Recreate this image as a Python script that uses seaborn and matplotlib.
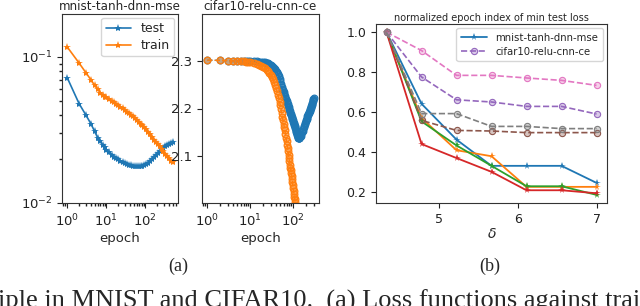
import numpy as np
import pandas as pd
import seaborn as sns
import matplotlib
matplotlib.use("Agg")
import matplotlib.pyplot as plt
from matplotlib.colors import to_rgba

# ---------------- data ----------------
# panel (a) left: mnist-tanh-dnn-mse (log-log)
epochs1 = [1, 2, 3, 4, 5, 6, 7, 8, 9, 10, 12, 14, 16, 18, 20, 23, 26, 30, 34, 38,
           43, 48, 54, 60, 67, 75, 84, 94, 105, 118, 132, 148, 165, 185, 207, 232,
           260, 290, 325, 365, 410, 460, 500]
mnist_test = [0.072, 0.048, 0.040, 0.035, 0.031, 0.028, 0.0265, 0.025, 0.024, 0.0232,
              0.0222, 0.0214, 0.0208, 0.0203, 0.0199, 0.0195, 0.0191, 0.0188, 0.0185,
              0.0183, 0.0181, 0.0180, 0.0179, 0.0178, 0.0178, 0.0178, 0.0179, 0.0181,
              0.0184, 0.0188, 0.0193, 0.0199, 0.0205, 0.0212, 0.0219, 0.0226, 0.0233,
              0.0239, 0.0245, 0.0250, 0.0254, 0.0258, 0.0260]
mnist_train = [0.117, 0.091, 0.078, 0.070, 0.064, 0.060, 0.057, 0.055, 0.0535, 0.0534,
               0.0515, 0.0500, 0.0488, 0.0477, 0.0468, 0.0456, 0.0446, 0.0434, 0.0423,
               0.0414, 0.0403, 0.0394, 0.0383, 0.0370, 0.0360, 0.0350, 0.0340, 0.0330,
               0.0320, 0.0307, 0.0295, 0.0283, 0.0272, 0.0262, 0.0253, 0.0244, 0.0235,
               0.0227, 0.0218, 0.0210, 0.0202, 0.0195, 0.0190]

# panel (a) right: cifar10-relu-cnn-ce (log x)
epochs2 = ([1, 2, 3, 4, 5, 6, 7, 8, 9, 10]
           + [12, 14, 16, 18, 20, 22, 24, 26, 28, 30, 32, 34, 36, 38, 40]
           + [42, 44, 46, 48, 50, 52, 54, 56, 58, 60, 62, 64, 66, 68, 70, 72, 74, 76,
              78, 80, 82, 84, 86, 88, 90, 92, 94, 96, 98, 100, 102, 104, 106, 108,
              110, 112, 114, 116, 118, 120, 122, 124, 126, 128, 130, 132, 134, 136,
              138, 140]
           + [145, 150, 155, 160, 165, 170, 175, 180, 185, 190, 195, 200, 205, 210,
              215, 220, 225, 230, 235, 240, 245, 250, 255, 260, 265, 270, 275, 280,
              285, 290, 295, 300])
cifar_test = ([2.3015, 2.301, 2.3005, 2.3005, 2.3005, 2.3003, 2.3002, 2.3001, 2.3000, 2.2998]
              + [2.2995, 2.2990, 2.2987, 2.2983, 2.2980, 2.2972, 2.2962, 2.2950, 2.2937,
                 2.2920, 2.2900, 2.2880, 2.2857, 2.2830, 2.2795]
              + [2.2760, 2.2720, 2.2675, 2.2630, 2.2580, 2.2520, 2.2460, 2.2420, 2.2380,
                 2.2340, 2.2300, 2.2265, 2.2230, 2.2190, 2.2155, 2.2120, 2.2085, 2.2055,
                 2.2025, 2.1995, 2.1967, 2.1940, 2.1910, 2.1880, 2.1855, 2.1830, 2.1800,
                 2.1775, 2.1750, 2.1725, 2.1700, 2.1680, 2.1655, 2.1630, 2.1605, 2.1580,
                 2.1555, 2.1530, 2.1505, 2.1480, 2.1460, 2.1440, 2.1425, 2.1410, 2.1400,
                 2.1390, 2.1382, 2.1378, 2.1378, 2.1380]
              + [2.1400, 2.1425, 2.1460, 2.1500, 2.1535, 2.1570, 2.1605, 2.1640, 2.1670,
                 2.1700, 2.1730, 2.1760, 2.1785, 2.1810, 2.1835, 2.1860, 2.1885, 2.1910,
                 2.1930, 2.1955, 2.1975, 2.1995, 2.2015, 2.2035, 2.2055, 2.2075, 2.2095,
                 2.2115, 2.2150, 2.2170, 2.2195, 2.2220])
cifar_train = ([2.3015, 2.3010, 2.3005, 2.3000, 2.2998, 2.2995, 2.2990, 2.2985, 2.2980, 2.2970]
               + [2.2955, 2.2940, 2.2920, 2.2895, 2.2870, 2.2845, 2.2815, 2.2780, 2.2745,
                  2.2710, 2.2665, 2.2610, 2.2550, 2.2490, 2.2430]
               + [2.236, 2.229, 2.222, 2.214, 2.207, 2.199, 2.190, 2.182, 2.175, 2.168,
                  2.161, 2.154, 2.1465, 2.139, 2.131, 2.124, 2.117, 2.110, 2.103, 2.096,
                  2.089, 2.082, 2.076, 2.070, 2.064, 2.058, 2.052, 2.045, 2.039, 2.033,
                  2.027, 2.021, 2.015, 2.009, 2.003, 1.998, 1.993, 1.988, 1.983, 1.978,
                  1.973, 1.968, 1.963, 1.958, 1.953, 1.948, 1.943, 1.938, 1.933, 1.928]
               + [1.918, 1.908, 1.898, 1.888, 1.878, 1.868, 1.858, 1.848, 1.838, 1.828,
                  1.818, 1.808, 1.798, 1.788, 1.778, 1.768, 1.758, 1.748, 1.738, 1.728,
                  1.718, 1.708, 1.698, 1.688, 1.678, 1.668, 1.658, 1.648, 1.638, 1.628,
                  1.618, 1.608])

# panel (b): normalized epoch index of min test loss
delta = [4.333, 4.778, 5.222, 5.667, 6.111, 6.556, 7.0]
solid_series = [
    [1.0, 0.642, 0.463, 0.332, 0.332, 0.332, 0.247],   # mnist-tanh-dnn-mse
    [1.0, 0.571, 0.410, 0.380, 0.227, 0.227, 0.227],
    [1.0, 0.554, 0.434, 0.332, 0.230, 0.230, 0.187],
    [1.0, 0.441, 0.371, 0.302, 0.210, 0.210, 0.195],
]
dashed_series = [
    [1.0, 0.776, 0.662, 0.651, 0.629, 0.629, 0.591],   # cifar10-relu-cnn-ce
    [1.0, 0.559, 0.509, 0.506, 0.498, 0.498, 0.498],
    [1.0, 0.908, 0.784, 0.784, 0.771, 0.759, 0.734],
    [1.0, 0.593, 0.593, 0.529, 0.529, 0.518, 0.518],
]
solid_labels = ["mnist-tanh-dnn-mse", None, None, None]
dashed_labels = ["cifar10-relu-cnn-ce", None, None, None]

titles = ["mnist-tanh-dnn-mse", "cifar10-relu-cnn-ce",
          "normalized epoch index of min test loss"]
captions = ["(a)", "(b)"]
caption_line = "iple in MNIST and CIFAR10.  (a) Loss functions against trai"

# ---------------- style ----------------
sns.set_theme(style="ticks")
plt.rcParams.update({
    "font.family": ["DejaVu Sans"],
    "axes.edgecolor": "#333333",
    "axes.linewidth": 0.8,
    "xtick.color": "#222222",
    "ytick.color": "#222222",
    "xtick.labelsize": 9.5,
    "ytick.labelsize": 9.5,
    "axes.labelsize": 9.5,
    "legend.fontsize": 9,
    "xtick.major.size": 3.5,
    "ytick.major.size": 3.5,
    "xtick.minor.size": 2,
    "ytick.minor.size": 2,
    "xtick.major.width": 0.8,
    "ytick.major.width": 0.8,
})

pal = sns.color_palette("tab10")

fig = plt.figure(figsize=(6.4, 3.06), dpi=100)
ax1 = fig.add_axes([62 / 640, 1 - 203 / 306, 116 / 640, 189 / 306])
ax2 = fig.add_axes([202 / 640, 1 - 203 / 306, 117 / 640, 189 / 306])
ax3 = fig.add_axes([376 / 640, 1 - 203 / 306, 231 / 640, 179 / 306])

# ---- panel 1 ----
df1 = pd.DataFrame({"epoch": epochs1, "test": mnist_test, "train": mnist_train})
sns.lineplot(data=df1, x="epoch", y="test", ax=ax1, color=pal[0], marker="*",
             markersize=6, markeredgewidth=0, linewidth=1.2, label="test")
sns.lineplot(data=df1, x="epoch", y="train", ax=ax1, color=pal[1], marker="*",
             markersize=6, markeredgewidth=0, linewidth=1.2, label="train")
ax1.set_xscale("log")
ax1.set_yscale("log")
ax1.set_ylim(0.01, 0.197)
ax1.set_xlabel("epoch", labelpad=2)
ax1.set_ylabel("")
ax1.set_title(titles[0], fontsize=8.6, pad=3)
ax1.legend(loc="upper right", fontsize=9, handlelength=2.0, borderpad=0.35,
           labelspacing=0.3, handletextpad=0.8, borderaxespad=0.3)

# ---- panel 2 ----
df2 = pd.DataFrame({"epoch": epochs2, "test": cifar_test, "train": cifar_train})
for col, c in (("test", pal[0]), ("train", pal[1])):
    sns.lineplot(data=df2, x="epoch", y=col, ax=ax2, color=c, marker="o",
                 markersize=4.8, markerfacecolor=to_rgba(c, 0.45),
                 markeredgecolor=c, markeredgewidth=0.9, linestyle="--",
                 linewidth=1.0)
ax2.set_xscale("log")
ax2.set_ylim(2.0015, 2.3985)
ax2.set_yticks([2.1, 2.2, 2.3])
ax2.set_xlabel("epoch", labelpad=2)
ax2.set_ylabel("")
ax2.set_title(titles[1], fontsize=8.6, pad=3)
if ax2.get_legend():
    ax2.get_legend().remove()

# ---- panel 3 ----
for i, ys in enumerate(solid_series):
    c = pal[i]
    sns.lineplot(x=delta, y=ys, ax=ax3, color=c, marker="*", markersize=5.5,
                 markeredgewidth=0, linewidth=1.3,
                 label=solid_labels[i] if solid_labels[i] else "_nolegend_")
for i, ys in enumerate(dashed_series):
    c = pal[i + 4]
    sns.lineplot(x=delta, y=ys, ax=ax3, color=c, marker="o", markersize=4.5,
                 markerfacecolor=to_rgba(c, 0.35), markeredgecolor=c,
                 markeredgewidth=0.8, linestyle="--", linewidth=1.2,
                 label=dashed_labels[i] if dashed_labels[i] else "_nolegend_")
ax3.set_xticks([5, 6, 7])
ax3.set_yticks([0.2, 0.4, 0.6, 0.8, 1.0])
ax3.tick_params(labelsize=9)
ax3.set_xlabel(r"$\delta$", fontsize=10, labelpad=1)
ax3.set_ylabel("")
ax3.set_title(titles[2], fontsize=7, pad=2.5)
ax3.legend(loc="upper right", fontsize=7.3, handlelength=2.6, borderpad=0.45,
           labelspacing=0.4, handletextpad=0.8, borderaxespad=0.4)

# ---- captions ----
fig.text(178 / 640, 1 - 266 / 306, captions[0], ha="center", va="center",
         fontsize=13, family="Liberation Serif")
fig.text(490 / 640, 1 - 266 / 306, captions[1], ha="center", va="center",
         fontsize=13, family="Liberation Serif")
fig.text(-2 / 640, 1 - 308 / 306, caption_line, ha="left", va="baseline",
         fontsize=19, family="Liberation Serif")

fig.savefig("out.png", dpi=100)
